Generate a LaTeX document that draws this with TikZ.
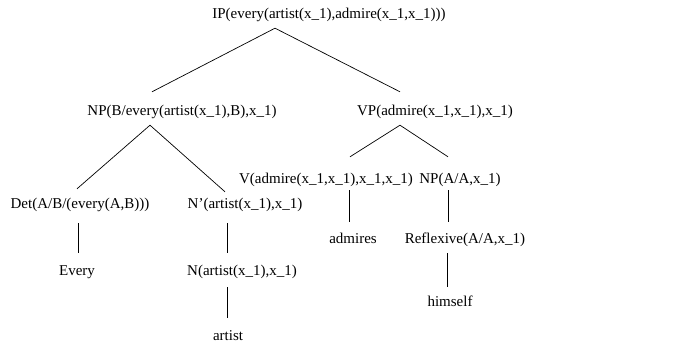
\documentclass[tikz,border=0pt]{standalone}
\usepackage{fontspec}
\setmainfont{Liberation Serif}
\usetikzlibrary{calc}

\begin{document}
\begin{tikzpicture}[x=1pt,y=-1pt,
  lbl/.style={inner sep=0pt, text height=11pt, text depth=4pt, font=\fontsize{15}{18}\selectfont},
  branch/.style={line width=0.7pt}]

\useasboundingbox (0,0) rectangle (683,352);

\node[lbl] (ip) at (329,15) {IP(every(artist(x\_1),admire(x\_1,x\_1)))};
\node[lbl] (np) at (182,112) {NP(B/every(artist(x\_1),B),x\_1)};
\node[lbl] (vp) at (435,112) {VP(admire(x\_1,x\_1),x\_1)};
\node[lbl] (det) at (80,205) {Det(A/B/(every(A,B)))};
\node[lbl] (nbar) at (245,205) {N’(artist(x\_1),x\_1)};
\node[lbl] (v) at (326,180) {V(admire(x\_1,x\_1),x\_1,x\_1)};
\node[lbl] (np2) at (460,180) {NP(A/A,x\_1)};
\node[lbl] (every) at (77,272) {Every};
\node[lbl] (n) at (242,272) {N(artist(x\_1),x\_1)};
\node[lbl] (artist) at (228,337) {artist};
\node[lbl] (admires) at (353,240) {admires};
\node[lbl] (refl) at (465,240) {Reflexive(A/A,x\_1)};
\node[lbl] (himself) at (450,303) {himself};

% branches
\draw[branch] ($(ip.south)+(-54,5.5)$) -- ($(np.north)+(-30,-12.5)$);
\draw[branch] ($(ip.south)+(-54,5.5)$) -- ($(vp.north)+(-35,-12.5)$);
\draw[branch] ($(np.south)+(-32,5.5)$) -- ($(det.north)+(-3,-8.5)$);
\draw[branch] ($(np.south)+(-32,5.5)$) -- ($(nbar.north)+(-20,-5.5)$);
\draw[branch] ($(vp.south)+(-35,5.5)$) -- ($(v.north)+(24,-15.5)$);
\draw[branch] ($(vp.south)+(-35,5.5)$) -- ($(np2.north)+(-12,-15.5)$);
\draw[branch] ($(det.south)+(-2,10.5)$) -- ($(every.north)+(1,-11.5)$);
\draw[branch] ($(nbar.south)+(-18,10.5)$) -- ($(n.north)+(-15,-11.5)$);
\draw[branch] ($(n.south)+(-15,7.5)$) -- ($(artist.north)+(-1,-11.5)$);
\draw[branch] ($(v.south)+(23,2.5)$) -- ($(admires.north)+(-4,-10.5)$);
\draw[branch] ($(np2.south)+(-12,2.5)$) -- ($(refl.north)+(-17,-10.5)$);
\draw[branch] ($(refl.south)+(-18,5.5)$) -- ($(himself.north)+(-3,-8.5)$);
\end{tikzpicture}
\end{document}
